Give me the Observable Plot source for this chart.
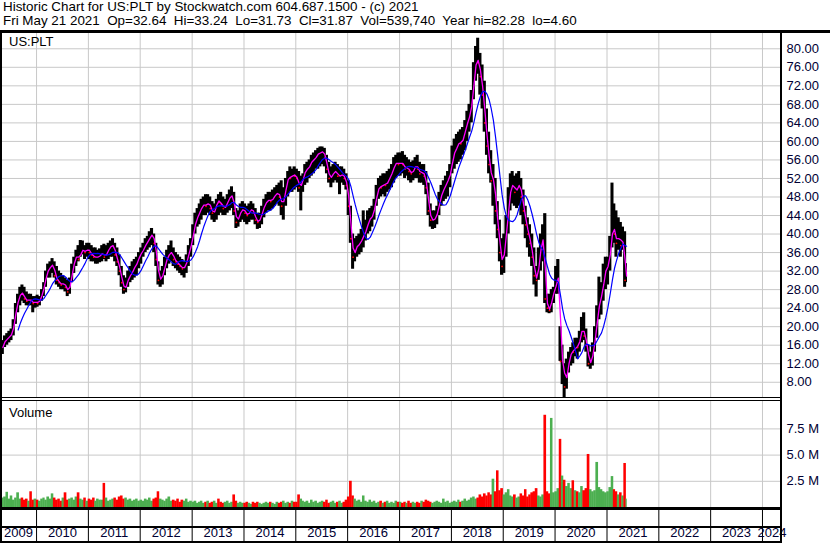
<!DOCTYPE html>
<html><head><meta charset="utf-8">
<script src="https://cdn.jsdelivr.net/npm/d3@7"></script>
<script src="https://cdn.jsdelivr.net/npm/@observablehq/plot@0.6"></script>
<style>
html,body{margin:0;padding:0;background:#fff;}
body{width:830px;height:543px;overflow:hidden;position:relative;font-family:"Liberation Sans",Arial,sans-serif;}
.abs{position:absolute;}
#hdr{left:3px;top:0;font-size:13.4px;line-height:14px;white-space:pre;color:#000;}
.blk{position:absolute;background:#000;z-index:5;}
.lbl{position:absolute;font-size:13px;color:#000;z-index:6;white-space:pre;}
#price,#vol,#xax{position:absolute;left:0;}
#price svg,#vol svg,#xax svg{display:block;}
</style></head><body>
<div id="hdr" class="abs">Historic Chart for US:PLT by Stockwatch.com 604.687.1500 - (c) 2021
Fri May 21 2021  Op=32.64  Hi=33.24  Lo=31.73  Cl=31.87  Vol=539,740  Year hi=82.28  lo=4.60</div>
<div id="price" style="top:33px"></div>
<div id="vol" style="top:401px"></div>
<div id="xax" style="top:510px"></div>
<div class="lbl" style="left:9px;top:34px">US:PLT</div>
<div class="lbl" style="left:9px;top:405px">Volume</div>
<div class="blk" style="left:0;top:30px;width:830px;height:3px"></div>
<div class="blk" style="left:0;top:30px;width:2px;height:513px"></div>
<div class="blk" style="left:780px;top:30px;width:2px;height:513px"></div>
<div class="blk" style="left:0;top:397px;width:782px;height:1px"></div>
<div class="blk" style="left:0;top:400px;width:782px;height:1px"></div>
<div class="blk" style="left:0;top:507px;width:782px;height:3px"></div>
<div class="blk" style="left:0;top:526px;width:782px;height:2px"></div>
<div class="blk" style="left:0;top:541px;width:782px;height:2px"></div>
<script>
// ---- data: semi-monthly periods (1st and 16th of each month), Apr 16 2009 .. May 16 2021 ----
const high = [
 15.5,17,18,18.5,19,19.5,21.5,25,27,28.5,29,28.5,27.5,27,27,26.5,26.5,
 26.8,26.5,28,29.5,32,33.5,34,34.7,34,33,32,31.5,31,30.5,30,30.5,33.5,35,36.5,37.5,38.6,38.5,37.5,38,
 38,37.5,37,37,36.5,36.8,37.5,37.8,37.5,38,38.5,39,38,37,35.5,33,31,30.5,32,33,34,34.5,35,36,
 37,38,39,39.5,40.5,41.2,40,38,34,32,33,35,36.5,37.5,38.5,37,36,35.5,35,34.5,34,35.5,37.5,39,
 42,44.5,45.5,46.5,47.5,48,48.5,48.5,48,47,46.5,47.5,48.5,49,48,47.5,48.5,49.5,50.2,49,45.5,45,46.5,47,
 46.5,46,46.5,47,46.5,45.5,44.5,44.5,46,47.5,48.5,49,49,49.5,50,50.5,51,51.5,50,52,53.5,54.5,54,54.5,
 54,53.5,52.5,53,55,55.5,56,57,57.5,58,58.5,58.8,58.8,58.5,57,55.5,54.5,55,55.5,55,54.5,54.5,54,53,
 51.5,46,40,39,39.5,40,41,45,43,45,45.5,46,47.5,50.5,52,52.5,53,53,53.5,54,55,56.5,57,57.5,
 57.5,57.8,57,56.5,56,55.5,55.8,56.5,57,55.5,55,55,53.5,51,46.5,45,45,46,49,50.5,51.5,52.5,53.5,55,
 59,60.5,61.5,62,62.5,63,64.5,66.5,68,71,77,80.5,82.28,79,76.5,73,67,62,58,55,52,47,43,39,
 40,44,50,53,53.5,52.5,53,53.5,52,49.5,46,43.5,42,40,37,33,37,40,42,44.4,27,27,28,28.5,
 33,34.5,20,16,12,13,14.5,15.5,16.5,17.5,17.5,19,22,23,19.5,16,14.5,16.5,20,24.5,30.7,29.5,33.5,35,
 35,39.5,51,46.5,45,43.5,42.5,41.5,40.5,33.6
];
const low = [
 12.6,14,15.5,16,16.5,17,18,20.5,23,24.5,25.5,25,24.5,24.5,24.5,23,24,
 24.2,24.5,25.5,26.5,28.5,30.5,30.5,31.5,30.5,29,28.5,28,28,27.5,26.5,27,29.5,31.5,33,34,35,35.5,34.5,35,
 34.5,34,34,33.5,33.5,33.8,34,34.5,34,34.5,35,35,34,33,31,28.5,27,27.3,28.5,29.5,30,30.5,31,32.5,
 33.5,35,36,36.5,37,37.5,36,33,29,28.5,29,31,32.5,33.5,34,33,32.5,32,31.5,31,30.5,31.5,33,35,
 37.5,40,41.5,42,43,44,44,44.5,44,43,42.5,43,44,44.5,44,44,44.5,45,45.5,44,41.2,41.5,42.5,43,
 42.5,42,42.5,43,43,42,41,41.2,42,43.5,44.5,45,45,45.5,46,46.5,46,44,43,46,48,49,49,49.5,
 50,49,45,49,50.5,51,52,52.5,53,54,54,54.5,55,54.5,53,51,50,51,51.5,51,48.5,51,50.5,49.5,
 44,38,32.4,34,35,35.5,36,37,38.5,40,40.5,41.5,43,46,47.5,48,48.5,48,49,49.5,50,51,52,52.5,
 52.5,53,52,52.5,51.5,51,51.5,52,52,51,51,50.5,48.5,44,41.5,41,41.2,42,44,46,47,47.5,48,50,
 53,54,55,55.5,56,57,58,60,62,64,69,73,74.5,70,67,62,57,53,51,46,42,39,34,31.1,
 31.5,35,40,45,46.5,46,45.5,46,44,42,39,37,35,33,29,26.4,30,32,34,25,23,22.8,23,25,
 27,27,12.5,7.5,4.6,6.5,10,11.5,12,13.5,13,14.5,16.5,17,14.5,11.3,10.8,11.5,14.5,17.5,21.5,22.5,25.5,28,
 29,32,37,38,35,36.5,35,36.5,28.5,29.5
];
const close = [
 14.5,16.5,17,17.5,18,18.5,21,24.5,26,27.5,27,26,25.5,26,25.5,25,25.5,
 25,26,27.5,29,31.5,32.5,33,33.5,31,30,29.5,29,29.5,28.5,27.5,29.5,32.5,34.5,35.5,34.5,36.5,36.5,36,37,
 36,35.5,35,35,35,35.5,36,35,36,37,37.5,37.5,35.5,34,32,29.5,28,29,31,31,32.5,33,34,35.5,
 36,37,38,38.5,39.5,40,38,34.5,30,30.5,31.5,34,35,36,36,34.5,34,33.5,33,32.5,33,34.5,36.5,38,
 41,43,44,45,46,46.5,46,47,45.5,44.5,45,47.5,46.8,46.5,45.5,46,47.5,48,48.5,45,42.5,44,45,45.5,
 44.5,44,45,45.5,44.5,43,42.5,43.5,45,46.5,47,47.5,47,48,48.5,49,48,46,48,51,52.5,52,53,52.5,
 52,50,51,52.5,54,54,55,56,56,57,57.5,57.5,58,56.5,54,52,52.5,53.5,53.5,52.5,52.5,53,52,50.5,
 46,39,35,37,37.5,38,39,40,41,43,43.5,44,46.5,49,50.5,50,51,50.5,51.5,52.5,53.5,55,55.5,55,
 55.5,55,54,54.5,53.5,53,54,55,54,53,53.5,52.5,50,45,43,43,43.5,45,47.5,49,50,51,52,53.5,
 57,58,59,60,59.5,61,63,64.5,66,69,75,78,77,74,70,64,59,55,51.5,52,45,41,36,33,
 38,42,48,50,51,49,50,51,48,45,42,40,38,35,31,30,35,38,39.5,26,24,23.5,27,27.5,
 30,31,12.5,13,7,11,13,15,14.5,16,15.5,18,20,18,16,12,12.5,15,18.5,23,26,27,31,33,
 33,38,42,40,38,40,37.5,39,30,31.87
];
// volume in millions of shares
const volume = [
 2.2,0.9,1.0,1.45,0.8,1.1,0.7,0.9,1.4,0.8,0.9,0.7,0.8,0.6,1.5,0.7,0.8,
 0.7,0.6,0.8,0.9,0.7,1.0,0.8,1.3,0.9,0.7,0.8,0.6,0.9,1.4,0.7,0.8,0.9,0.7,1.0,1.4,0.8,0.7,0.9,0.6,
 0.8,0.7,0.9,0.6,0.8,0.7,0.7,2.3,0.9,0.6,0.7,0.8,0.9,0.7,1.0,1.1,0.8,0.9,0.7,0.8,0.6,0.7,0.8,0.6,
 0.7,0.6,0.8,0.7,0.9,0.6,0.8,0.9,1.5,0.8,0.7,0.6,0.8,1.0,0.6,0.7,0.6,0.8,0.5,0.7,0.6,0.8,0.5,0.6,
 0.5,0.6,0.4,0.5,0.6,0.4,0.5,0.6,0.4,0.5,0.6,0.4,0.8,0.5,0.4,0.5,0.6,0.4,0.5,1.2,0.6,0.4,0.5,0.4,
 0.4,0.5,0.4,0.3,0.5,0.4,0.5,0.4,0.3,0.4,0.5,0.4,0.5,0.4,0.3,0.5,0.4,0.5,0.6,0.4,0.5,0.4,0.6,0.5,
 0.5,1.2,0.8,0.6,0.5,0.6,0.4,0.7,0.5,0.6,0.4,0.5,0.6,0.5,0.7,0.4,0.5,0.6,0.4,0.5,0.6,0.4,0.5,0.7,
 1.0,2.5,1.1,0.8,0.6,0.7,0.5,1.1,0.6,0.5,0.7,0.5,0.6,0.4,0.5,0.6,0.4,0.5,0.6,0.4,0.5,0.4,0.6,0.5,
 0.5,0.4,0.5,0.4,0.6,0.4,0.5,0.4,0.5,0.4,0.6,0.5,0.7,0.6,0.5,0.4,0.5,0.6,0.5,0.4,0.8,0.5,0.6,0.4,
 0.5,0.6,0.5,0.7,0.5,0.6,0.8,0.6,0.7,0.9,1.0,0.8,0.9,1.2,1.0,1.3,1.1,1.4,1.2,2.7,1.5,3.5,1.6,1.8,
 1.2,1.4,1.7,1.1,1.0,1.2,0.9,1.0,1.3,1.1,1.7,1.0,1.2,1.4,1.5,1.8,1.1,1.0,1.2,8.8,1.5,1.3,8.5,1.4,
 1.5,1.8,6.5,3.0,2.6,2.0,2.3,1.8,2.55,1.6,1.5,1.4,2.0,1.6,1.8,5.06,1.7,1.5,1.6,4.3,1.9,1.7,1.5,1.4,
 1.5,1.9,2.95,1.7,1.5,1.2,1.4,1.1,4.2,0.8
];
const yearLabels = [2009,2010,2011,2012,2013,2014,2015,2016,2017,2018,2019,2020,2021,2022,2023,2024];
const priceTicks = [8,12,16,20,24,28,32,36,40,44,48,52,56,60,64,68,72,76,80];
const volumeTicks = [2.5,5,7.5];

// ---- build table ----
const starts = [];
for (let y = 2009; y <= 2021; y++) for (let m = 0; m < 12; m++) for (const d of [1, 16]) {
  const t = Date.UTC(y, m, d);
  if (t >= Date.UTC(2009, 3, 16) && t <= Date.UTC(2021, 4, 16)) starts.push(t);
}
const lastDay = Date.UTC(2021, 4, 22);
const bars = starts.map((t, i) => {
  const end = i + 1 < starts.length ? starts[i + 1] : lastDay;
  return {start: new Date(t), end: new Date(end), mid: new Date((t + end) / 2),
    hi: high[i], lo: low[i], cl: close[i], vol: volume[i],
    up: i === 0 || close[i] >= close[i - 1]};
});

const xDomain = [new Date(Date.UTC(2009, 3, 22)), new Date(Date.UTC(2024, 4, 14))];
const yearStarts = yearLabels.slice(1).map(y => new Date(Date.UTC(y, 0, 1)));
const yearMids = yearLabels.map(y => {
  const a = Math.max(Date.UTC(y, 0, 1), +xDomain[0]);
  const b = Math.min(Date.UTC(y + 1, 0, 1), +xDomain[1]);
  return {x: new Date((a + b) / 2), label: String(y)};
});

const common = {
  width: 830, marginLeft: 0, marginRight: 49, marginTop: 0, marginBottom: 0,
  x: {type: "utc", domain: xDomain, range: [0, 781], axis: null},
  style: {fontFamily: '"Liberation Sans", Arial, sans-serif', fontSize: "13px", background: "transparent", overflow: "visible"}
};
const grid = "#c8c8c8";

const price = Plot.plot({
  ...common, height: 365,
  y: {domain: [4.6, 83.3], range: [364.5, 0], axis: null},
  marks: [
    Plot.ruleY(priceTicks, {stroke: grid, strokeWidth: 1}),
    Plot.ruleX(yearStarts, {stroke: grid, strokeWidth: 1}),
    Plot.rect(bars, {x1: "start", x2: "end", y1: "lo", y2: "hi", fill: "#000", insetLeft: -0.45, insetRight: -0.45}),
    Plot.dot(bars.filter(d => !d.up), {x: "mid", y: "cl", r: 0.9, fill: "#ff0000", stroke: null}),
    Plot.lineY(bars, Plot.windowY({k: 2, anchor: "end", strict: true}, {x: "mid", y: "cl", stroke: "#ff00ff", strokeWidth: 1.3})),
    Plot.lineY(bars, Plot.windowY({k: 9, anchor: "end", strict: true}, {x: "mid", y: "cl", stroke: "#0000ff", strokeWidth: 1.2})),
    Plot.axisY(priceTicks, {anchor: "right", label: null, tickSize: 0, tickPadding: 5, tickFormat: d => d.toFixed(2), color: "#000033", fontSize: 13})
  ]
});
document.getElementById("price").append(price);

const vol = Plot.plot({
  ...common, height: 106,
  y: {domain: [0, 106 / 10.48], range: [106, 0], axis: null},
  marks: [
    Plot.ruleY(volumeTicks, {stroke: grid, strokeWidth: 1}),
    Plot.ruleX(yearStarts, {stroke: grid, strokeWidth: 1}),
    Plot.rectY(bars, {x1: "start", x2: "end", y: "vol", fill: d => d.up ? "#4caf50" : "#ff0000", insetLeft: -0.2, insetRight: -0.2}),
    Plot.axisY(volumeTicks, {anchor: "right", label: null, tickSize: 0, tickPadding: 5, tickFormat: d => d.toFixed(1) + " M", color: "#000033", fontSize: 13})
  ]
});
document.getElementById("vol").append(vol);

const xax = Plot.plot({
  ...common, height: 33,
  marks: [
    Plot.ruleX(yearStarts, {stroke: "#000", strokeWidth: 1}),
    Plot.text(yearMids, {x: "x", text: "label", frameAnchor: "bottom", dy: -7, fill: "#000033", fontSize: 13})
  ]
});
document.getElementById("xax").append(xax);
</script>
</body></html>
